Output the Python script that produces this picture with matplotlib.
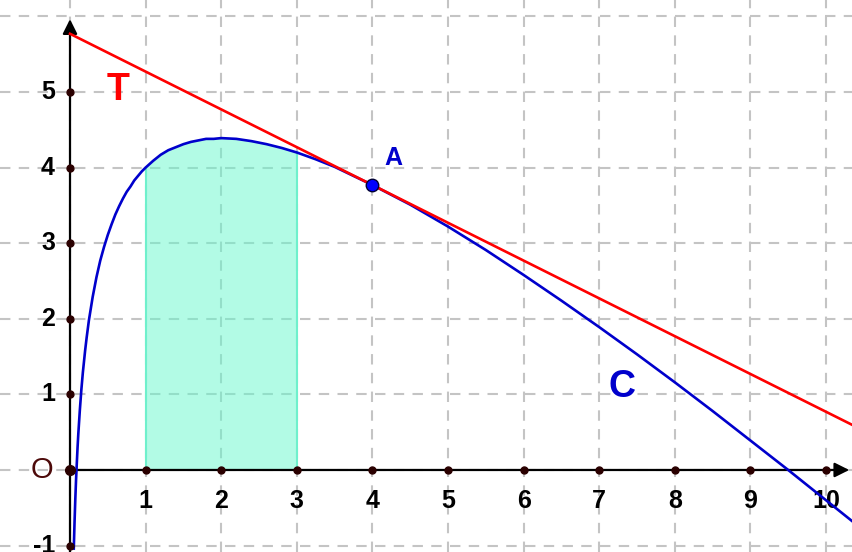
import matplotlib
matplotlib.use("Agg")
import matplotlib.pyplot as plt

# courbe C
c_x = [0.05, 0.06, 0.07, 0.08, 0.09, 0.1, 0.11, 0.13, 0.15, 0.17, 0.2, 0.22, 0.25, 0.3, 0.35,
       0.4, 0.45, 0.5, 0.55, 0.6, 0.65, 0.7, 0.75, 0.8, 0.85, 0.9, 0.95,
       1.0, 1.1, 1.2, 1.3, 1.4, 1.5, 1.6, 1.7, 1.8, 1.9, 2.0, 2.2, 2.4, 2.6, 2.8, 3.0,
       3.25, 3.5, 3.75, 4.0, 4.25, 4.5, 5.0, 5.5, 6.0, 6.5,
       7.0, 7.5, 8.0, 8.5, 9.0, 9.5, 10.0, 10.5]
c_y = [-1.04, -0.69, -0.39, -0.13, 0.09, 0.30, 0.48, 0.79, 1.06, 1.29, 1.58, 1.75, 1.98, 2.29, 2.55,
       2.77, 2.95, 3.11, 3.25, 3.38, 3.49, 3.59, 3.68, 3.75, 3.83, 3.89, 3.95,
       4.00, 4.09, 4.17, 4.23, 4.27, 4.31, 4.34, 4.36, 4.38, 4.38, 4.39, 4.38, 4.35, 4.31, 4.26, 4.20,
       4.11, 4.01, 3.89, 3.77, 3.64, 3.51, 3.22, 2.91, 2.58, 2.24,
       1.89, 1.53, 1.16, 0.78, 0.39, 0.00, -0.40, -0.80]

# aire entre x=1 et x=3
aire_x = [1.0, 1.1, 1.2, 1.3, 1.4, 1.5, 1.6, 1.7, 1.8, 1.9, 2.0, 2.2, 2.4, 2.6, 2.8, 3.0]
aire_y = [4.00, 4.09, 4.17, 4.23, 4.27, 4.31, 4.34, 4.36, 4.38, 4.38, 4.39, 4.38, 4.35, 4.31, 4.26, 4.20]

# tangente T
t_x = [0.0, 10.5]
t_y = [5.77, 0.52]

# point A
a_x, a_y = 4.0, 3.77

x_ticks = [1, 2, 3, 4, 5, 6, 7, 8, 9, 10]
y_ticks = [-1, 1, 2, 3, 4, 5]

fig = plt.figure(figsize=(8.52, 5.52), dpi=100)
ax = fig.add_axes([0, 0, 1, 1])
ax.set_xlim(-0.926, 10.344)
ax.set_ylim(-1.085, 6.217)
ax.axis("off")

# grille
for gx in range(0, 11):
    ax.axvline(gx, color="#c4c4c4", lw=1.5, dashes=(5, 4), zorder=0)
for gy in range(-1, 7):
    ax.axhline(gy, color="#c4c4c4", lw=1.5, dashes=(5, 4), zorder=0)

# aire
ax.fill_between(aire_x, 0, aire_y, color="#66f9cd", alpha=0.5, lw=0, zorder=1)
ax.plot([1, 1], [0, aire_y[0]], color="#6ff0cc", lw=1.5, zorder=1)
ax.plot([3, 3], [0, aire_y[-1]], color="#6ff0cc", lw=1.5, zorder=1)

# axes
ax.annotate("", xy=(0, 6.0), xytext=(0, -1.2),
            arrowprops=dict(arrowstyle="-|>", color="black", lw=1.6, mutation_scale=22), zorder=3)
ax.annotate("", xy=(10.344, 0), xytext=(-0.05, 0),
            arrowprops=dict(arrowstyle="-|>", color="black", lw=1.6, mutation_scale=22), zorder=3)

# courbes
ax.plot(c_x, c_y, color="#0000cc", lw=1.9, zorder=4)
ax.plot(t_x, t_y, color="#ff0000", lw=1.9, zorder=5)

# graduations
ax.plot(x_ticks, [0] * len(x_ticks), "o", color="#2a0000", ms=5, zorder=6)
ax.plot([0] * len(y_ticks), y_ticks, "o", color="#2a0000", ms=5, zorder=6)
ax.plot([0], [0], "o", color="#2a0000", ms=7, zorder=6)

for v in x_ticks:
    ax.text(v, -0.41, str(v), ha="center", va="center", fontsize=18,
            fontweight="bold", family="Liberation Sans")
for v in y_ticks:
    ax.text(-0.2, v, str(v), ha="right", va="center", fontsize=18,
            fontweight="bold", family="Liberation Sans")
ax.text(-0.37, 0, "O", ha="center", va="center", fontsize=21, color="#4d0a0a",
        family="Liberation Sans")

# point A
ax.plot([a_x], [a_y], "o", color="#0000ff", mec="#000033", mew=1, ms=9, zorder=7)
ax.text(4.28, 4.13, "A", ha="center", va="center", fontsize=18, fontweight="bold",
        color="#0000cc", family="Liberation Sans")

ax.text(0.63, 5.03, "T", ha="center", va="center", fontsize=27, fontweight="bold",
        color="#ff0000", family="Liberation Sans")
ax.text(7.3, 1.1, "C", ha="center", va="center", fontsize=27, fontweight="bold",
        color="#0000cc", family="Liberation Sans")

fig.savefig("out.png", dpi=100)
